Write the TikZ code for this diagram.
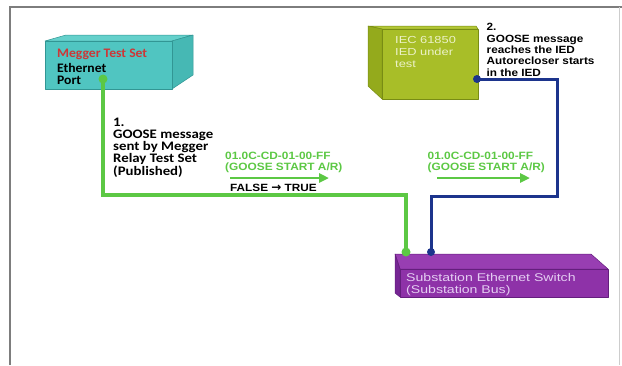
\documentclass[tikz,border=0pt]{standalone}
\usepackage{fontspec}
\usetikzlibrary{arrows.meta}
\newfontfamily\calbfont[FakeStretch=1.05]{Carlito}
\newfontfamily\calbwide[FakeStretch=1.14]{Carlito}
\newfontfamily\arialfont[FakeStretch=1.12]{Liberation Sans}
\newfontfamily\arialwide[FakeStretch=1.26]{Liberation Sans}
\newfontfamily\arrowfont{DejaVu Sans}
\definecolor{tealfront}{RGB}{80,197,193}
\definecolor{tealtop}{RGB}{100,208,203}
\definecolor{tealside}{RGB}{70,184,180}
\definecolor{tealedge}{RGB}{50,150,148}
\definecolor{olivefront}{RGB}{168,190,40}
\definecolor{olivetop}{RGB}{180,200,55}
\definecolor{oliveside}{RGB}{148,170,28}
\definecolor{oliveedge}{RGB}{120,140,20}
\definecolor{purpfront}{RGB}{142,50,168}
\definecolor{purptop}{RGB}{152,62,178}
\definecolor{purpside}{RGB}{118,38,148}
\definecolor{purpedge}{RGB}{100,30,125}
\definecolor{purptext}{RGB}{228,205,242}
\definecolor{iedtext}{RGB}{236,242,200}
\definecolor{linegreen}{RGB}{92,200,68}
\definecolor{lineblue}{RGB}{28,52,140}
\definecolor{meggerred}{RGB}{205,55,55}
\definecolor{framegray}{RGB}{125,125,125}
\definecolor{framelight}{RGB}{205,205,205}
\tikzset{
  gline/.style={draw=linegreen, line width=3.2pt},
  bline/.style={draw=lineblue, line width=3pt},
  gdot/.style={circle, fill=linegreen, inner sep=0pt, minimum size=9pt},
  bdot/.style={circle, fill=lineblue, inner sep=0pt, minimum size=8pt},
  lbl/.style={inner sep=0pt, anchor=base west, align=left},
  calbtext/.style={font=\calbfont\bfseries\fontsize{13}{12.25}\selectfont},
  arialbold/.style={font=\arialfont\bfseries\fontsize{10.5}{11.3}\selectfont},
  greentext/.style={text=linegreen, font=\arialfont\bfseries\fontsize{10.6}{11}\selectfont},
  garrow/.style={draw=linegreen, line width=2.6pt, -{Triangle[length=10pt,width=9pt]}},
  facedraw/.style={draw=#1, line width=0.5pt, line join=round}
}
\begin{document}
\begin{tikzpicture}[x=1pt,y=-1pt]
\useasboundingbox (0,0) rectangle (622,365);
% frame
\draw[draw=framegray, line width=2pt] (10,365) -- (10,7) -- (622,7);
\draw[draw=framelight, line width=1pt] (619,7) -- (619,365);

% Megger test set box
\filldraw[fill=tealtop, facedraw=tealedge] (45,41) -- (66,35) -- (193,35) -- (172,41) -- cycle;
\filldraw[fill=tealside, facedraw=tealedge] (172,41) -- (193,35) -- (193,75) -- (172,89) -- cycle;
\filldraw[fill=tealfront, facedraw=tealedge] (45,41) rectangle (172,89);
\node[lbl, calbtext, text=meggerred] (megger) at (57,57.5) {Megger Test Set};
\node[lbl, text=black, font=\calbfont\bfseries\fontsize{13}{11.8}\selectfont] (ethport) at (57,84.4) {Ethernet\\Port};

% IED box
\filldraw[fill=olivetop, facedraw=oliveedge] (368,26) -- (476,26) -- (478,29) -- (382,29) -- cycle;
\filldraw[fill=oliveside, facedraw=oliveedge] (368,26) -- (382,29) -- (382,99) -- (368,86) -- cycle;
\filldraw[fill=olivefront, facedraw=oliveedge] (382,29) rectangle (478,99);
\node[lbl, text=iedtext, font=\arialwide\fontsize{10.2}{11.7}\selectfont] (ied) at (395,67.1) {IEC 61850\\IED under\\test};

% Switch
\filldraw[fill=purptop, facedraw=purpedge] (395,254) -- (591,254) -- (608,269) -- (400,269) -- cycle;
\filldraw[fill=purpside, facedraw=purpedge] (395,254) -- (400,269) -- (400,297) -- (395,293) -- cycle;
\filldraw[fill=purpfront, facedraw=purpedge] (400,269) rectangle (608,297);
\node[lbl, text=purptext, font=\arialwide\fontsize{11.2}{12}\selectfont] (switch) at (406,293) {Substation Ethernet Switch\\(Substation Bus)};

% connectors
\node[gdot] (g1) at (103,79) {};
\node[gdot] (g2) at (406,252) {};
\node[bdot] (b1) at (477,79) {};
\node[bdot] (b2) at (431,252) {};
\coordinate (gc) at (406,195);
\coordinate (bc) at (557,196);
\draw[gline] (g1.center) |- (gc) -- (g2.center);
\draw[bline] (b2.center) |- (bc) |- (b1.center);

% labels
\node[lbl, font=\calbwide\bfseries\fontsize{13}{12.25}\selectfont] (lab1) at (113,175) {1.\\GOOSE message\\sent by Megger\\Relay Test Set\\(Published)};
\node[lbl, arialbold] (lab2) at (486.5,76) {2.\\GOOSE message\\reaches the IED\\Autorecloser starts\\in the IED};

\node[lbl, greentext] (mac1) at (225,170) {01.0C-CD-01-00-FF\\(GOOSE START A/R)};
\node[lbl, greentext] (mac2) at (427.5,170) {01.0C-CD-01-00-FF\\(GOOSE START A/R)};
\coordinate (a1s) at (230,178);
\coordinate (a1e) at (329,178);
\coordinate (a2s) at (437,178);
\coordinate (a2e) at (530,178);
\draw[garrow] (a1s) -- (a1e);
\draw[garrow] (a2s) -- (a2e);
\node[lbl, arialbold] (ft) at (230,191) {FALSE {\arrowfont\bfseries\fontsize{12}{12}\selectfont →} TRUE};
\end{tikzpicture}
\end{document}
